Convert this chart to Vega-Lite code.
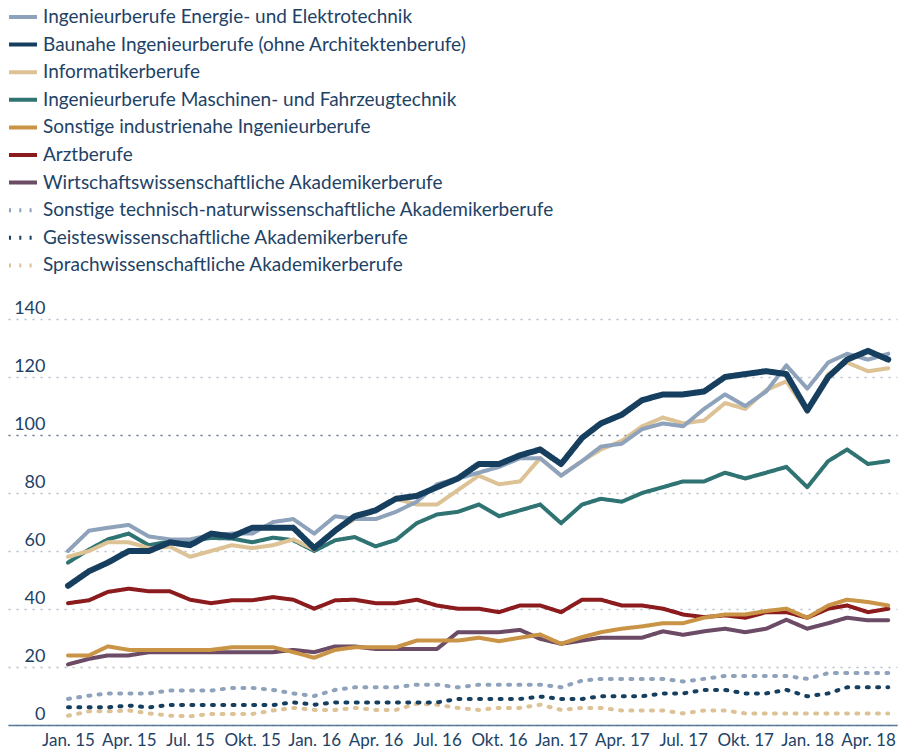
{
"$schema": "https://vega.github.io/schema/vega-lite/v6.json",
"width": 889, "height": 406,
"autosize": {"type": "none"},
"padding": {"left": 8, "top": 319, "right": 2, "bottom": 26},
"background": "white",
"config": {"font": "Lato", "view": {"stroke": null}},
"data": {"values": [
{"month":"2015-01","series":"Sprachwissenschaftliche Akademikerberufe","value":3.2},
{"month":"2015-02","series":"Sprachwissenschaftliche Akademikerberufe","value":4.7},
{"month":"2015-03","series":"Sprachwissenschaftliche Akademikerberufe","value":4.7},
{"month":"2015-04","series":"Sprachwissenschaftliche Akademikerberufe","value":5},
{"month":"2015-05","series":"Sprachwissenschaftliche Akademikerberufe","value":4},
{"month":"2015-06","series":"Sprachwissenschaftliche Akademikerberufe","value":3.2},
{"month":"2015-07","series":"Sprachwissenschaftliche Akademikerberufe","value":3},
{"month":"2015-08","series":"Sprachwissenschaftliche Akademikerberufe","value":3.8},
{"month":"2015-09","series":"Sprachwissenschaftliche Akademikerberufe","value":3.8},
{"month":"2015-10","series":"Sprachwissenschaftliche Akademikerberufe","value":3.8},
{"month":"2015-11","series":"Sprachwissenschaftliche Akademikerberufe","value":5},
{"month":"2015-12","series":"Sprachwissenschaftliche Akademikerberufe","value":5.9},
{"month":"2016-01","series":"Sprachwissenschaftliche Akademikerberufe","value":5.2},
{"month":"2016-02","series":"Sprachwissenschaftliche Akademikerberufe","value":5.2},
{"month":"2016-03","series":"Sprachwissenschaftliche Akademikerberufe","value":5.9},
{"month":"2016-04","series":"Sprachwissenschaftliche Akademikerberufe","value":5.2},
{"month":"2016-05","series":"Sprachwissenschaftliche Akademikerberufe","value":5.2},
{"month":"2016-06","series":"Sprachwissenschaftliche Akademikerberufe","value":7.3},
{"month":"2016-07","series":"Sprachwissenschaftliche Akademikerberufe","value":7},
{"month":"2016-08","series":"Sprachwissenschaftliche Akademikerberufe","value":5.9},
{"month":"2016-09","series":"Sprachwissenschaftliche Akademikerberufe","value":5.2},
{"month":"2016-10","series":"Sprachwissenschaftliche Akademikerberufe","value":5.9},
{"month":"2016-11","series":"Sprachwissenschaftliche Akademikerberufe","value":5.9},
{"month":"2016-12","series":"Sprachwissenschaftliche Akademikerberufe","value":7},
{"month":"2017-01","series":"Sprachwissenschaftliche Akademikerberufe","value":5.2},
{"month":"2017-02","series":"Sprachwissenschaftliche Akademikerberufe","value":5.9},
{"month":"2017-03","series":"Sprachwissenschaftliche Akademikerberufe","value":5.9},
{"month":"2017-04","series":"Sprachwissenschaftliche Akademikerberufe","value":5},
{"month":"2017-05","series":"Sprachwissenschaftliche Akademikerberufe","value":5},
{"month":"2017-06","series":"Sprachwissenschaftliche Akademikerberufe","value":5},
{"month":"2017-07","series":"Sprachwissenschaftliche Akademikerberufe","value":4},
{"month":"2017-08","series":"Sprachwissenschaftliche Akademikerberufe","value":5},
{"month":"2017-09","series":"Sprachwissenschaftliche Akademikerberufe","value":5},
{"month":"2017-10","series":"Sprachwissenschaftliche Akademikerberufe","value":4},
{"month":"2017-11","series":"Sprachwissenschaftliche Akademikerberufe","value":4},
{"month":"2017-12","series":"Sprachwissenschaftliche Akademikerberufe","value":4},
{"month":"2018-01","series":"Sprachwissenschaftliche Akademikerberufe","value":4},
{"month":"2018-02","series":"Sprachwissenschaftliche Akademikerberufe","value":4},
{"month":"2018-03","series":"Sprachwissenschaftliche Akademikerberufe","value":4},
{"month":"2018-04","series":"Sprachwissenschaftliche Akademikerberufe","value":4},
{"month":"2018-05","series":"Sprachwissenschaftliche Akademikerberufe","value":4},
{"month":"2015-01","series":"Geisteswissenschaftliche Akademikerberufe","value":6.1},
{"month":"2015-02","series":"Geisteswissenschaftliche Akademikerberufe","value":6.1},
{"month":"2015-03","series":"Geisteswissenschaftliche Akademikerberufe","value":6.1},
{"month":"2015-04","series":"Geisteswissenschaftliche Akademikerberufe","value":6.7},
{"month":"2015-05","series":"Geisteswissenschaftliche Akademikerberufe","value":6.1},
{"month":"2015-06","series":"Geisteswissenschaftliche Akademikerberufe","value":6.9},
{"month":"2015-07","series":"Geisteswissenschaftliche Akademikerberufe","value":6.9},
{"month":"2015-08","series":"Geisteswissenschaftliche Akademikerberufe","value":6.9},
{"month":"2015-09","series":"Geisteswissenschaftliche Akademikerberufe","value":6.9},
{"month":"2015-10","series":"Geisteswissenschaftliche Akademikerberufe","value":6.9},
{"month":"2015-11","series":"Geisteswissenschaftliche Akademikerberufe","value":6.9},
{"month":"2015-12","series":"Geisteswissenschaftliche Akademikerberufe","value":7.8},
{"month":"2016-01","series":"Geisteswissenschaftliche Akademikerberufe","value":7},
{"month":"2016-02","series":"Geisteswissenschaftliche Akademikerberufe","value":7.8},
{"month":"2016-03","series":"Geisteswissenschaftliche Akademikerberufe","value":7.8},
{"month":"2016-04","series":"Geisteswissenschaftliche Akademikerberufe","value":7.8},
{"month":"2016-05","series":"Geisteswissenschaftliche Akademikerberufe","value":7.8},
{"month":"2016-06","series":"Geisteswissenschaftliche Akademikerberufe","value":7.8},
{"month":"2016-07","series":"Geisteswissenschaftliche Akademikerberufe","value":7.8},
{"month":"2016-08","series":"Geisteswissenschaftliche Akademikerberufe","value":9},
{"month":"2016-09","series":"Geisteswissenschaftliche Akademikerberufe","value":9},
{"month":"2016-10","series":"Geisteswissenschaftliche Akademikerberufe","value":9},
{"month":"2016-11","series":"Geisteswissenschaftliche Akademikerberufe","value":9},
{"month":"2016-12","series":"Geisteswissenschaftliche Akademikerberufe","value":9.8},
{"month":"2017-01","series":"Geisteswissenschaftliche Akademikerberufe","value":9},
{"month":"2017-02","series":"Geisteswissenschaftliche Akademikerberufe","value":9},
{"month":"2017-03","series":"Geisteswissenschaftliche Akademikerberufe","value":9.9},
{"month":"2017-04","series":"Geisteswissenschaftliche Akademikerberufe","value":9.9},
{"month":"2017-05","series":"Geisteswissenschaftliche Akademikerberufe","value":9.9},
{"month":"2017-06","series":"Geisteswissenschaftliche Akademikerberufe","value":10.9},
{"month":"2017-07","series":"Geisteswissenschaftliche Akademikerberufe","value":10.9},
{"month":"2017-08","series":"Geisteswissenschaftliche Akademikerberufe","value":12.1},
{"month":"2017-09","series":"Geisteswissenschaftliche Akademikerberufe","value":12.1},
{"month":"2017-10","series":"Geisteswissenschaftliche Akademikerberufe","value":10.9},
{"month":"2017-11","series":"Geisteswissenschaftliche Akademikerberufe","value":10.9},
{"month":"2017-12","series":"Geisteswissenschaftliche Akademikerberufe","value":12.1},
{"month":"2018-01","series":"Geisteswissenschaftliche Akademikerberufe","value":9.9},
{"month":"2018-02","series":"Geisteswissenschaftliche Akademikerberufe","value":10.9},
{"month":"2018-03","series":"Geisteswissenschaftliche Akademikerberufe","value":13},
{"month":"2018-04","series":"Geisteswissenschaftliche Akademikerberufe","value":13},
{"month":"2018-05","series":"Geisteswissenschaftliche Akademikerberufe","value":13},
{"month":"2015-01","series":"Sonstige technisch-naturwissenschaftliche Akademikerberufe","value":9},
{"month":"2015-02","series":"Sonstige technisch-naturwissenschaftliche Akademikerberufe","value":10.1},
{"month":"2015-03","series":"Sonstige technisch-naturwissenschaftliche Akademikerberufe","value":10.9},
{"month":"2015-04","series":"Sonstige technisch-naturwissenschaftliche Akademikerberufe","value":10.9},
{"month":"2015-05","series":"Sonstige technisch-naturwissenschaftliche Akademikerberufe","value":10.9},
{"month":"2015-06","series":"Sonstige technisch-naturwissenschaftliche Akademikerberufe","value":11.9},
{"month":"2015-07","series":"Sonstige technisch-naturwissenschaftliche Akademikerberufe","value":11.9},
{"month":"2015-08","series":"Sonstige technisch-naturwissenschaftliche Akademikerberufe","value":11.9},
{"month":"2015-09","series":"Sonstige technisch-naturwissenschaftliche Akademikerberufe","value":12.8},
{"month":"2015-10","series":"Sonstige technisch-naturwissenschaftliche Akademikerberufe","value":12.8},
{"month":"2015-11","series":"Sonstige technisch-naturwissenschaftliche Akademikerberufe","value":12.1},
{"month":"2015-12","series":"Sonstige technisch-naturwissenschaftliche Akademikerberufe","value":10.9},
{"month":"2016-01","series":"Sonstige technisch-naturwissenschaftliche Akademikerberufe","value":10},
{"month":"2016-02","series":"Sonstige technisch-naturwissenschaftliche Akademikerberufe","value":12.1},
{"month":"2016-03","series":"Sonstige technisch-naturwissenschaftliche Akademikerberufe","value":13},
{"month":"2016-04","series":"Sonstige technisch-naturwissenschaftliche Akademikerberufe","value":13},
{"month":"2016-05","series":"Sonstige technisch-naturwissenschaftliche Akademikerberufe","value":13},
{"month":"2016-06","series":"Sonstige technisch-naturwissenschaftliche Akademikerberufe","value":13.9},
{"month":"2016-07","series":"Sonstige technisch-naturwissenschaftliche Akademikerberufe","value":13.9},
{"month":"2016-08","series":"Sonstige technisch-naturwissenschaftliche Akademikerberufe","value":13},
{"month":"2016-09","series":"Sonstige technisch-naturwissenschaftliche Akademikerberufe","value":13.9},
{"month":"2016-10","series":"Sonstige technisch-naturwissenschaftliche Akademikerberufe","value":13.9},
{"month":"2016-11","series":"Sonstige technisch-naturwissenschaftliche Akademikerberufe","value":13.9},
{"month":"2016-12","series":"Sonstige technisch-naturwissenschaftliche Akademikerberufe","value":13.9},
{"month":"2017-01","series":"Sonstige technisch-naturwissenschaftliche Akademikerberufe","value":13},
{"month":"2017-02","series":"Sonstige technisch-naturwissenschaftliche Akademikerberufe","value":15.3},
{"month":"2017-03","series":"Sonstige technisch-naturwissenschaftliche Akademikerberufe","value":15.9},
{"month":"2017-04","series":"Sonstige technisch-naturwissenschaftliche Akademikerberufe","value":15.9},
{"month":"2017-05","series":"Sonstige technisch-naturwissenschaftliche Akademikerberufe","value":15.9},
{"month":"2017-06","series":"Sonstige technisch-naturwissenschaftliche Akademikerberufe","value":15.9},
{"month":"2017-07","series":"Sonstige technisch-naturwissenschaftliche Akademikerberufe","value":15},
{"month":"2017-08","series":"Sonstige technisch-naturwissenschaftliche Akademikerberufe","value":15.9},
{"month":"2017-09","series":"Sonstige technisch-naturwissenschaftliche Akademikerberufe","value":16.9},
{"month":"2017-10","series":"Sonstige technisch-naturwissenschaftliche Akademikerberufe","value":16.9},
{"month":"2017-11","series":"Sonstige technisch-naturwissenschaftliche Akademikerberufe","value":16.9},
{"month":"2017-12","series":"Sonstige technisch-naturwissenschaftliche Akademikerberufe","value":16.9},
{"month":"2018-01","series":"Sonstige technisch-naturwissenschaftliche Akademikerberufe","value":15.9},
{"month":"2018-02","series":"Sonstige technisch-naturwissenschaftliche Akademikerberufe","value":17.9},
{"month":"2018-03","series":"Sonstige technisch-naturwissenschaftliche Akademikerberufe","value":17.9},
{"month":"2018-04","series":"Sonstige technisch-naturwissenschaftliche Akademikerberufe","value":17.9},
{"month":"2018-05","series":"Sonstige technisch-naturwissenschaftliche Akademikerberufe","value":17.9},
{"month":"2015-01","series":"Wirtschaftswissenschaftliche Akademikerberufe","value":20.9},
{"month":"2015-02","series":"Wirtschaftswissenschaftliche Akademikerberufe","value":22.8},
{"month":"2015-03","series":"Wirtschaftswissenschaftliche Akademikerberufe","value":24},
{"month":"2015-04","series":"Wirtschaftswissenschaftliche Akademikerberufe","value":24},
{"month":"2015-05","series":"Wirtschaftswissenschaftliche Akademikerberufe","value":25.1},
{"month":"2015-06","series":"Wirtschaftswissenschaftliche Akademikerberufe","value":25.1},
{"month":"2015-07","series":"Wirtschaftswissenschaftliche Akademikerberufe","value":25.1},
{"month":"2015-08","series":"Wirtschaftswissenschaftliche Akademikerberufe","value":25.1},
{"month":"2015-09","series":"Wirtschaftswissenschaftliche Akademikerberufe","value":25.1},
{"month":"2015-10","series":"Wirtschaftswissenschaftliche Akademikerberufe","value":25.1},
{"month":"2015-11","series":"Wirtschaftswissenschaftliche Akademikerberufe","value":25.1},
{"month":"2015-12","series":"Wirtschaftswissenschaftliche Akademikerberufe","value":25.9},
{"month":"2016-01","series":"Wirtschaftswissenschaftliche Akademikerberufe","value":25.1},
{"month":"2016-02","series":"Wirtschaftswissenschaftliche Akademikerberufe","value":27.1},
{"month":"2016-03","series":"Wirtschaftswissenschaftliche Akademikerberufe","value":27.1},
{"month":"2016-04","series":"Wirtschaftswissenschaftliche Akademikerberufe","value":26.2},
{"month":"2016-05","series":"Wirtschaftswissenschaftliche Akademikerberufe","value":26.2},
{"month":"2016-06","series":"Wirtschaftswissenschaftliche Akademikerberufe","value":26.2},
{"month":"2016-07","series":"Wirtschaftswissenschaftliche Akademikerberufe","value":26.2},
{"month":"2016-08","series":"Wirtschaftswissenschaftliche Akademikerberufe","value":32},
{"month":"2016-09","series":"Wirtschaftswissenschaftliche Akademikerberufe","value":32},
{"month":"2016-10","series":"Wirtschaftswissenschaftliche Akademikerberufe","value":32},
{"month":"2016-11","series":"Wirtschaftswissenschaftliche Akademikerberufe","value":32.8},
{"month":"2016-12","series":"Wirtschaftswissenschaftliche Akademikerberufe","value":29.7},
{"month":"2017-01","series":"Wirtschaftswissenschaftliche Akademikerberufe","value":28},
{"month":"2017-02","series":"Wirtschaftswissenschaftliche Akademikerberufe","value":29.1},
{"month":"2017-03","series":"Wirtschaftswissenschaftliche Akademikerberufe","value":30.1},
{"month":"2017-04","series":"Wirtschaftswissenschaftliche Akademikerberufe","value":30.1},
{"month":"2017-05","series":"Wirtschaftswissenschaftliche Akademikerberufe","value":30.1},
{"month":"2017-06","series":"Wirtschaftswissenschaftliche Akademikerberufe","value":32.3},
{"month":"2017-07","series":"Wirtschaftswissenschaftliche Akademikerberufe","value":31.1},
{"month":"2017-08","series":"Wirtschaftswissenschaftliche Akademikerberufe","value":32.3},
{"month":"2017-09","series":"Wirtschaftswissenschaftliche Akademikerberufe","value":33.2},
{"month":"2017-10","series":"Wirtschaftswissenschaftliche Akademikerberufe","value":32},
{"month":"2017-11","series":"Wirtschaftswissenschaftliche Akademikerberufe","value":33.2},
{"month":"2017-12","series":"Wirtschaftswissenschaftliche Akademikerberufe","value":36.3},
{"month":"2018-01","series":"Wirtschaftswissenschaftliche Akademikerberufe","value":33.2},
{"month":"2018-02","series":"Wirtschaftswissenschaftliche Akademikerberufe","value":35.1},
{"month":"2018-03","series":"Wirtschaftswissenschaftliche Akademikerberufe","value":37},
{"month":"2018-04","series":"Wirtschaftswissenschaftliche Akademikerberufe","value":36.1},
{"month":"2018-05","series":"Wirtschaftswissenschaftliche Akademikerberufe","value":36.1},
{"month":"2015-01","series":"Arztberufe","value":42},
{"month":"2015-02","series":"Arztberufe","value":43},
{"month":"2015-03","series":"Arztberufe","value":45.9},
{"month":"2015-04","series":"Arztberufe","value":47},
{"month":"2015-05","series":"Arztberufe","value":46.1},
{"month":"2015-06","series":"Arztberufe","value":46.1},
{"month":"2015-07","series":"Arztberufe","value":43.2},
{"month":"2015-08","series":"Arztberufe","value":42},
{"month":"2015-09","series":"Arztberufe","value":43},
{"month":"2015-10","series":"Arztberufe","value":43},
{"month":"2015-11","series":"Arztberufe","value":44.1},
{"month":"2015-12","series":"Arztberufe","value":43.2},
{"month":"2016-01","series":"Arztberufe","value":40.1},
{"month":"2016-02","series":"Arztberufe","value":43},
{"month":"2016-03","series":"Arztberufe","value":43.2},
{"month":"2016-04","series":"Arztberufe","value":42},
{"month":"2016-05","series":"Arztberufe","value":42},
{"month":"2016-06","series":"Arztberufe","value":43.2},
{"month":"2016-07","series":"Arztberufe","value":41.2},
{"month":"2016-08","series":"Arztberufe","value":40.1},
{"month":"2016-09","series":"Arztberufe","value":40.1},
{"month":"2016-10","series":"Arztberufe","value":38.9},
{"month":"2016-11","series":"Arztberufe","value":41.2},
{"month":"2016-12","series":"Arztberufe","value":41.2},
{"month":"2017-01","series":"Arztberufe","value":38.9},
{"month":"2017-02","series":"Arztberufe","value":43.2},
{"month":"2017-03","series":"Arztberufe","value":43.2},
{"month":"2017-04","series":"Arztberufe","value":41.2},
{"month":"2017-05","series":"Arztberufe","value":41.2},
{"month":"2017-06","series":"Arztberufe","value":40.1},
{"month":"2017-07","series":"Arztberufe","value":38.1},
{"month":"2017-08","series":"Arztberufe","value":37.2},
{"month":"2017-09","series":"Arztberufe","value":37.8},
{"month":"2017-10","series":"Arztberufe","value":37},
{"month":"2017-11","series":"Arztberufe","value":38.9},
{"month":"2017-12","series":"Arztberufe","value":38.9},
{"month":"2018-01","series":"Arztberufe","value":37},
{"month":"2018-02","series":"Arztberufe","value":40.1},
{"month":"2018-03","series":"Arztberufe","value":41.2},
{"month":"2018-04","series":"Arztberufe","value":38.9},
{"month":"2018-05","series":"Arztberufe","value":40.1},
{"month":"2015-01","series":"Sonstige industrienahe Ingenieurberufe","value":24},
{"month":"2015-02","series":"Sonstige industrienahe Ingenieurberufe","value":24},
{"month":"2015-03","series":"Sonstige industrienahe Ingenieurberufe","value":27.1},
{"month":"2015-04","series":"Sonstige industrienahe Ingenieurberufe","value":25.9},
{"month":"2015-05","series":"Sonstige industrienahe Ingenieurberufe","value":25.9},
{"month":"2015-06","series":"Sonstige industrienahe Ingenieurberufe","value":25.9},
{"month":"2015-07","series":"Sonstige industrienahe Ingenieurberufe","value":25.9},
{"month":"2015-08","series":"Sonstige industrienahe Ingenieurberufe","value":25.9},
{"month":"2015-09","series":"Sonstige industrienahe Ingenieurberufe","value":26.8},
{"month":"2015-10","series":"Sonstige industrienahe Ingenieurberufe","value":26.8},
{"month":"2015-11","series":"Sonstige industrienahe Ingenieurberufe","value":26.8},
{"month":"2015-12","series":"Sonstige industrienahe Ingenieurberufe","value":25.1},
{"month":"2016-01","series":"Sonstige industrienahe Ingenieurberufe","value":23.2},
{"month":"2016-02","series":"Sonstige industrienahe Ingenieurberufe","value":25.9},
{"month":"2016-03","series":"Sonstige industrienahe Ingenieurberufe","value":26.8},
{"month":"2016-04","series":"Sonstige industrienahe Ingenieurberufe","value":26.8},
{"month":"2016-05","series":"Sonstige industrienahe Ingenieurberufe","value":26.8},
{"month":"2016-06","series":"Sonstige industrienahe Ingenieurberufe","value":29.1},
{"month":"2016-07","series":"Sonstige industrienahe Ingenieurberufe","value":29.1},
{"month":"2016-08","series":"Sonstige industrienahe Ingenieurberufe","value":29.1},
{"month":"2016-09","series":"Sonstige industrienahe Ingenieurberufe","value":30.1},
{"month":"2016-10","series":"Sonstige industrienahe Ingenieurberufe","value":28.9},
{"month":"2016-11","series":"Sonstige industrienahe Ingenieurberufe","value":30.1},
{"month":"2016-12","series":"Sonstige industrienahe Ingenieurberufe","value":31.2},
{"month":"2017-01","series":"Sonstige industrienahe Ingenieurberufe","value":28},
{"month":"2017-02","series":"Sonstige industrienahe Ingenieurberufe","value":30.3},
{"month":"2017-03","series":"Sonstige industrienahe Ingenieurberufe","value":32},
{"month":"2017-04","series":"Sonstige industrienahe Ingenieurberufe","value":33.2},
{"month":"2017-05","series":"Sonstige industrienahe Ingenieurberufe","value":34},
{"month":"2017-06","series":"Sonstige industrienahe Ingenieurberufe","value":35.1},
{"month":"2017-07","series":"Sonstige industrienahe Ingenieurberufe","value":35.1},
{"month":"2017-08","series":"Sonstige industrienahe Ingenieurberufe","value":37},
{"month":"2017-09","series":"Sonstige industrienahe Ingenieurberufe","value":38.1},
{"month":"2017-10","series":"Sonstige industrienahe Ingenieurberufe","value":38.1},
{"month":"2017-11","series":"Sonstige industrienahe Ingenieurberufe","value":39.3},
{"month":"2017-12","series":"Sonstige industrienahe Ingenieurberufe","value":40.1},
{"month":"2018-01","series":"Sonstige industrienahe Ingenieurberufe","value":37},
{"month":"2018-02","series":"Sonstige industrienahe Ingenieurberufe","value":41.2},
{"month":"2018-03","series":"Sonstige industrienahe Ingenieurberufe","value":43.2},
{"month":"2018-04","series":"Sonstige industrienahe Ingenieurberufe","value":42.4},
{"month":"2018-05","series":"Sonstige industrienahe Ingenieurberufe","value":41.2},
{"month":"2015-01","series":"Ingenieurberufe Maschinen- und Fahrzeugtechnik","value":56},
{"month":"2015-02","series":"Ingenieurberufe Maschinen- und Fahrzeugtechnik","value":60.5},
{"month":"2015-03","series":"Ingenieurberufe Maschinen- und Fahrzeugtechnik","value":64},
{"month":"2015-04","series":"Ingenieurberufe Maschinen- und Fahrzeugtechnik","value":66},
{"month":"2015-05","series":"Ingenieurberufe Maschinen- und Fahrzeugtechnik","value":62},
{"month":"2015-06","series":"Ingenieurberufe Maschinen- und Fahrzeugtechnik","value":63.3},
{"month":"2015-07","series":"Ingenieurberufe Maschinen- und Fahrzeugtechnik","value":63.5},
{"month":"2015-08","series":"Ingenieurberufe Maschinen- und Fahrzeugtechnik","value":64.5},
{"month":"2015-09","series":"Ingenieurberufe Maschinen- und Fahrzeugtechnik","value":64.3},
{"month":"2015-10","series":"Ingenieurberufe Maschinen- und Fahrzeugtechnik","value":63},
{"month":"2015-11","series":"Ingenieurberufe Maschinen- und Fahrzeugtechnik","value":64.6},
{"month":"2015-12","series":"Ingenieurberufe Maschinen- und Fahrzeugtechnik","value":63.7},
{"month":"2016-01","series":"Ingenieurberufe Maschinen- und Fahrzeugtechnik","value":60},
{"month":"2016-02","series":"Ingenieurberufe Maschinen- und Fahrzeugtechnik","value":63.7},
{"month":"2016-03","series":"Ingenieurberufe Maschinen- und Fahrzeugtechnik","value":64.8},
{"month":"2016-04","series":"Ingenieurberufe Maschinen- und Fahrzeugtechnik","value":61.6},
{"month":"2016-05","series":"Ingenieurberufe Maschinen- und Fahrzeugtechnik","value":63.8},
{"month":"2016-06","series":"Ingenieurberufe Maschinen- und Fahrzeugtechnik","value":69.6},
{"month":"2016-07","series":"Ingenieurberufe Maschinen- und Fahrzeugtechnik","value":72.6},
{"month":"2016-08","series":"Ingenieurberufe Maschinen- und Fahrzeugtechnik","value":73.5},
{"month":"2016-09","series":"Ingenieurberufe Maschinen- und Fahrzeugtechnik","value":76},
{"month":"2016-10","series":"Ingenieurberufe Maschinen- und Fahrzeugtechnik","value":72},
{"month":"2016-11","series":"Ingenieurberufe Maschinen- und Fahrzeugtechnik","value":74},
{"month":"2016-12","series":"Ingenieurberufe Maschinen- und Fahrzeugtechnik","value":76},
{"month":"2017-01","series":"Ingenieurberufe Maschinen- und Fahrzeugtechnik","value":69.6},
{"month":"2017-02","series":"Ingenieurberufe Maschinen- und Fahrzeugtechnik","value":76},
{"month":"2017-03","series":"Ingenieurberufe Maschinen- und Fahrzeugtechnik","value":78},
{"month":"2017-04","series":"Ingenieurberufe Maschinen- und Fahrzeugtechnik","value":77},
{"month":"2017-05","series":"Ingenieurberufe Maschinen- und Fahrzeugtechnik","value":80},
{"month":"2017-06","series":"Ingenieurberufe Maschinen- und Fahrzeugtechnik","value":82},
{"month":"2017-07","series":"Ingenieurberufe Maschinen- und Fahrzeugtechnik","value":84},
{"month":"2017-08","series":"Ingenieurberufe Maschinen- und Fahrzeugtechnik","value":84},
{"month":"2017-09","series":"Ingenieurberufe Maschinen- und Fahrzeugtechnik","value":87},
{"month":"2017-10","series":"Ingenieurberufe Maschinen- und Fahrzeugtechnik","value":85},
{"month":"2017-11","series":"Ingenieurberufe Maschinen- und Fahrzeugtechnik","value":87},
{"month":"2017-12","series":"Ingenieurberufe Maschinen- und Fahrzeugtechnik","value":89},
{"month":"2018-01","series":"Ingenieurberufe Maschinen- und Fahrzeugtechnik","value":82},
{"month":"2018-02","series":"Ingenieurberufe Maschinen- und Fahrzeugtechnik","value":91},
{"month":"2018-03","series":"Ingenieurberufe Maschinen- und Fahrzeugtechnik","value":95},
{"month":"2018-04","series":"Ingenieurberufe Maschinen- und Fahrzeugtechnik","value":90},
{"month":"2018-05","series":"Ingenieurberufe Maschinen- und Fahrzeugtechnik","value":91},
{"month":"2015-01","series":"Informatikerberufe","value":58},
{"month":"2015-02","series":"Informatikerberufe","value":60},
{"month":"2015-03","series":"Informatikerberufe","value":63},
{"month":"2015-04","series":"Informatikerberufe","value":63},
{"month":"2015-05","series":"Informatikerberufe","value":61},
{"month":"2015-06","series":"Informatikerberufe","value":61.5},
{"month":"2015-07","series":"Informatikerberufe","value":58},
{"month":"2015-08","series":"Informatikerberufe","value":60},
{"month":"2015-09","series":"Informatikerberufe","value":62},
{"month":"2015-10","series":"Informatikerberufe","value":61},
{"month":"2015-11","series":"Informatikerberufe","value":62},
{"month":"2015-12","series":"Informatikerberufe","value":64},
{"month":"2016-01","series":"Informatikerberufe","value":60.5},
{"month":"2016-02","series":"Informatikerberufe","value":67},
{"month":"2016-03","series":"Informatikerberufe","value":71},
{"month":"2016-04","series":"Informatikerberufe","value":74},
{"month":"2016-05","series":"Informatikerberufe","value":78},
{"month":"2016-06","series":"Informatikerberufe","value":76},
{"month":"2016-07","series":"Informatikerberufe","value":76},
{"month":"2016-08","series":"Informatikerberufe","value":81},
{"month":"2016-09","series":"Informatikerberufe","value":86},
{"month":"2016-10","series":"Informatikerberufe","value":83},
{"month":"2016-11","series":"Informatikerberufe","value":84},
{"month":"2016-12","series":"Informatikerberufe","value":92},
{"month":"2017-01","series":"Informatikerberufe","value":86},
{"month":"2017-02","series":"Informatikerberufe","value":91},
{"month":"2017-03","series":"Informatikerberufe","value":95},
{"month":"2017-04","series":"Informatikerberufe","value":98},
{"month":"2017-05","series":"Informatikerberufe","value":103},
{"month":"2017-06","series":"Informatikerberufe","value":106},
{"month":"2017-07","series":"Informatikerberufe","value":104},
{"month":"2017-08","series":"Informatikerberufe","value":105},
{"month":"2017-09","series":"Informatikerberufe","value":111},
{"month":"2017-10","series":"Informatikerberufe","value":109},
{"month":"2017-11","series":"Informatikerberufe","value":115.5},
{"month":"2017-12","series":"Informatikerberufe","value":118.5},
{"month":"2018-01","series":"Informatikerberufe","value":108},
{"month":"2018-02","series":"Informatikerberufe","value":121},
{"month":"2018-03","series":"Informatikerberufe","value":125},
{"month":"2018-04","series":"Informatikerberufe","value":122},
{"month":"2018-05","series":"Informatikerberufe","value":123},
{"month":"2015-01","series":"Ingenieurberufe Energie- und Elektrotechnik","value":60},
{"month":"2015-02","series":"Ingenieurberufe Energie- und Elektrotechnik","value":67},
{"month":"2015-03","series":"Ingenieurberufe Energie- und Elektrotechnik","value":68},
{"month":"2015-04","series":"Ingenieurberufe Energie- und Elektrotechnik","value":69},
{"month":"2015-05","series":"Ingenieurberufe Energie- und Elektrotechnik","value":65},
{"month":"2015-06","series":"Ingenieurberufe Energie- und Elektrotechnik","value":64},
{"month":"2015-07","series":"Ingenieurberufe Energie- und Elektrotechnik","value":64},
{"month":"2015-08","series":"Ingenieurberufe Energie- und Elektrotechnik","value":65.5},
{"month":"2015-09","series":"Ingenieurberufe Energie- und Elektrotechnik","value":66},
{"month":"2015-10","series":"Ingenieurberufe Energie- und Elektrotechnik","value":66},
{"month":"2015-11","series":"Ingenieurberufe Energie- und Elektrotechnik","value":70},
{"month":"2015-12","series":"Ingenieurberufe Energie- und Elektrotechnik","value":71},
{"month":"2016-01","series":"Ingenieurberufe Energie- und Elektrotechnik","value":66},
{"month":"2016-02","series":"Ingenieurberufe Energie- und Elektrotechnik","value":72},
{"month":"2016-03","series":"Ingenieurberufe Energie- und Elektrotechnik","value":71},
{"month":"2016-04","series":"Ingenieurberufe Energie- und Elektrotechnik","value":71},
{"month":"2016-05","series":"Ingenieurberufe Energie- und Elektrotechnik","value":73.5},
{"month":"2016-06","series":"Ingenieurberufe Energie- und Elektrotechnik","value":77},
{"month":"2016-07","series":"Ingenieurberufe Energie- und Elektrotechnik","value":83},
{"month":"2016-08","series":"Ingenieurberufe Energie- und Elektrotechnik","value":85},
{"month":"2016-09","series":"Ingenieurberufe Energie- und Elektrotechnik","value":87},
{"month":"2016-10","series":"Ingenieurberufe Energie- und Elektrotechnik","value":89},
{"month":"2016-11","series":"Ingenieurberufe Energie- und Elektrotechnik","value":92},
{"month":"2016-12","series":"Ingenieurberufe Energie- und Elektrotechnik","value":92},
{"month":"2017-01","series":"Ingenieurberufe Energie- und Elektrotechnik","value":86},
{"month":"2017-02","series":"Ingenieurberufe Energie- und Elektrotechnik","value":91},
{"month":"2017-03","series":"Ingenieurberufe Energie- und Elektrotechnik","value":96},
{"month":"2017-04","series":"Ingenieurberufe Energie- und Elektrotechnik","value":97},
{"month":"2017-05","series":"Ingenieurberufe Energie- und Elektrotechnik","value":102},
{"month":"2017-06","series":"Ingenieurberufe Energie- und Elektrotechnik","value":104},
{"month":"2017-07","series":"Ingenieurberufe Energie- und Elektrotechnik","value":103},
{"month":"2017-08","series":"Ingenieurberufe Energie- und Elektrotechnik","value":109},
{"month":"2017-09","series":"Ingenieurberufe Energie- und Elektrotechnik","value":114},
{"month":"2017-10","series":"Ingenieurberufe Energie- und Elektrotechnik","value":110},
{"month":"2017-11","series":"Ingenieurberufe Energie- und Elektrotechnik","value":115},
{"month":"2017-12","series":"Ingenieurberufe Energie- und Elektrotechnik","value":124},
{"month":"2018-01","series":"Ingenieurberufe Energie- und Elektrotechnik","value":116},
{"month":"2018-02","series":"Ingenieurberufe Energie- und Elektrotechnik","value":125},
{"month":"2018-03","series":"Ingenieurberufe Energie- und Elektrotechnik","value":128},
{"month":"2018-04","series":"Ingenieurberufe Energie- und Elektrotechnik","value":126},
{"month":"2018-05","series":"Ingenieurberufe Energie- und Elektrotechnik","value":128},
{"month":"2015-01","series":"Baunahe Ingenieurberufe (ohne Architektenberufe)","value":48},
{"month":"2015-02","series":"Baunahe Ingenieurberufe (ohne Architektenberufe)","value":53},
{"month":"2015-03","series":"Baunahe Ingenieurberufe (ohne Architektenberufe)","value":56},
{"month":"2015-04","series":"Baunahe Ingenieurberufe (ohne Architektenberufe)","value":60},
{"month":"2015-05","series":"Baunahe Ingenieurberufe (ohne Architektenberufe)","value":60},
{"month":"2015-06","series":"Baunahe Ingenieurberufe (ohne Architektenberufe)","value":63},
{"month":"2015-07","series":"Baunahe Ingenieurberufe (ohne Architektenberufe)","value":62},
{"month":"2015-08","series":"Baunahe Ingenieurberufe (ohne Architektenberufe)","value":66},
{"month":"2015-09","series":"Baunahe Ingenieurberufe (ohne Architektenberufe)","value":65},
{"month":"2015-10","series":"Baunahe Ingenieurberufe (ohne Architektenberufe)","value":68},
{"month":"2015-11","series":"Baunahe Ingenieurberufe (ohne Architektenberufe)","value":68},
{"month":"2015-12","series":"Baunahe Ingenieurberufe (ohne Architektenberufe)","value":68},
{"month":"2016-01","series":"Baunahe Ingenieurberufe (ohne Architektenberufe)","value":61},
{"month":"2016-02","series":"Baunahe Ingenieurberufe (ohne Architektenberufe)","value":67},
{"month":"2016-03","series":"Baunahe Ingenieurberufe (ohne Architektenberufe)","value":72},
{"month":"2016-04","series":"Baunahe Ingenieurberufe (ohne Architektenberufe)","value":74},
{"month":"2016-05","series":"Baunahe Ingenieurberufe (ohne Architektenberufe)","value":78},
{"month":"2016-06","series":"Baunahe Ingenieurberufe (ohne Architektenberufe)","value":79},
{"month":"2016-07","series":"Baunahe Ingenieurberufe (ohne Architektenberufe)","value":82},
{"month":"2016-08","series":"Baunahe Ingenieurberufe (ohne Architektenberufe)","value":85},
{"month":"2016-09","series":"Baunahe Ingenieurberufe (ohne Architektenberufe)","value":90},
{"month":"2016-10","series":"Baunahe Ingenieurberufe (ohne Architektenberufe)","value":90},
{"month":"2016-11","series":"Baunahe Ingenieurberufe (ohne Architektenberufe)","value":93},
{"month":"2016-12","series":"Baunahe Ingenieurberufe (ohne Architektenberufe)","value":95},
{"month":"2017-01","series":"Baunahe Ingenieurberufe (ohne Architektenberufe)","value":90},
{"month":"2017-02","series":"Baunahe Ingenieurberufe (ohne Architektenberufe)","value":99},
{"month":"2017-03","series":"Baunahe Ingenieurberufe (ohne Architektenberufe)","value":104},
{"month":"2017-04","series":"Baunahe Ingenieurberufe (ohne Architektenberufe)","value":107},
{"month":"2017-05","series":"Baunahe Ingenieurberufe (ohne Architektenberufe)","value":112},
{"month":"2017-06","series":"Baunahe Ingenieurberufe (ohne Architektenberufe)","value":114},
{"month":"2017-07","series":"Baunahe Ingenieurberufe (ohne Architektenberufe)","value":114},
{"month":"2017-08","series":"Baunahe Ingenieurberufe (ohne Architektenberufe)","value":115},
{"month":"2017-09","series":"Baunahe Ingenieurberufe (ohne Architektenberufe)","value":120},
{"month":"2017-10","series":"Baunahe Ingenieurberufe (ohne Architektenberufe)","value":121},
{"month":"2017-11","series":"Baunahe Ingenieurberufe (ohne Architektenberufe)","value":122},
{"month":"2017-12","series":"Baunahe Ingenieurberufe (ohne Architektenberufe)","value":121},
{"month":"2018-01","series":"Baunahe Ingenieurberufe (ohne Architektenberufe)","value":108.5},
{"month":"2018-02","series":"Baunahe Ingenieurberufe (ohne Architektenberufe)","value":120},
{"month":"2018-03","series":"Baunahe Ingenieurberufe (ohne Architektenberufe)","value":126},
{"month":"2018-04","series":"Baunahe Ingenieurberufe (ohne Architektenberufe)","value":129},
{"month":"2018-05","series":"Baunahe Ingenieurberufe (ohne Architektenberufe)","value":126}
]},
"mark": {"type": "line", "strokeCap": "round", "strokeJoin": "round"},
"encoding": {
"x": {"field": "month", "type": "temporal",
  "scale": {"type": "utc", "domain": [{"year": 2014, "month": 10, "date": 4, "utc": true}, {"year": 2018, "month": 5, "date": 14, "utc": true}]},
  "axis": {"title": null, "grid": false, "ticks": false, "tickSize": 0, "domain": true, "domainColor": "#5a7896", "domainWidth": 1.5,
    "values": [{"year":2015,"month":1,"date":1,"utc":true},{"year":2015,"month":4,"date":1,"utc":true},{"year":2015,"month":7,"date":1,"utc":true},{"year":2015,"month":10,"date":1,"utc":true},{"year":2016,"month":1,"date":1,"utc":true},{"year":2016,"month":4,"date":1,"utc":true},{"year":2016,"month":7,"date":1,"utc":true},{"year":2016,"month":10,"date":1,"utc":true},{"year":2017,"month":1,"date":1,"utc":true},{"year":2017,"month":4,"date":1,"utc":true},{"year":2017,"month":7,"date":1,"utc":true},{"year":2017,"month":10,"date":1,"utc":true},{"year":2018,"month":1,"date":1,"utc":true},{"year":2018,"month":4,"date":1,"utc":true}],
    "labelExpr": "['Jan.','Apr.','Jul.','Okt.'][floor(utcmonth(datum.value)/3)] + ' ' + utcFormat(datum.value, '%y')",
    "labelFontSize": 17, "labelColor": "#1e4266", "labelPadding": 7, "labelOverlap": false, "labelFlush": false}},
"y": {"field": "value", "type": "quantitative",
  "scale": {"domain": [0, 140], "nice": false, "zero": true},
  "axis": {"title": null, "values": [0, 20, 40, 60, 80, 100, 120, 140], "grid": true,
    "gridColor": {"condition": {"test": "datum.value === 100", "value": "#5f7389"}, "value": "#b1bfcd"},
    "gridDash": [2, 6], "gridWidth": 1.5, "domain": false, "ticks": false, "tickSize": 0,
    "labelAlign": "right", "labelPadding": -37, "labelBaseline": "alphabetic", "labelOffset": -6,
    "labelFontSize": 18, "labelColor": "#1e4266", "labelOverlap": false}},
"color": {"field": "series", "type": "nominal",
  "scale": {"domain": ["Ingenieurberufe Energie- und Elektrotechnik", "Baunahe Ingenieurberufe (ohne Architektenberufe)", "Informatikerberufe", "Ingenieurberufe Maschinen- und Fahrzeugtechnik", "Sonstige industrienahe Ingenieurberufe", "Arztberufe", "Wirtschaftswissenschaftliche Akademikerberufe", "Sonstige technisch-naturwissenschaftliche Akademikerberufe", "Geisteswissenschaftliche Akademikerberufe", "Sprachwissenschaftliche Akademikerberufe"],
    "range": ["#8ea3bb", "#163f5f", "#ddc296", "#2f7373", "#c99446", "#8c1b1d", "#6b4b66", "#8ea3bb", "#163f5f", "#ddc296"]},
  "legend": {"orient": "none", "legendX": -1, "legendY": -318, "title": null, "direction": "vertical", "columns": 1,
    "symbolType": "stroke", "symbolSize": 784, "symbolStrokeWidth": 4, "labelFontSize": 19, "labelColor": "#1e4266", "labelLimit": 800,
    "labelOffset": 4, "rowPadding": 1.6, "padding": 0}},
"strokeDash": {"field": "series", "type": "nominal",
  "scale": {"domain": ["Ingenieurberufe Energie- und Elektrotechnik", "Baunahe Ingenieurberufe (ohne Architektenberufe)", "Informatikerberufe", "Ingenieurberufe Maschinen- und Fahrzeugtechnik", "Sonstige industrienahe Ingenieurberufe", "Arztberufe", "Wirtschaftswissenschaftliche Akademikerberufe", "Sonstige technisch-naturwissenschaftliche Akademikerberufe", "Geisteswissenschaftliche Akademikerberufe", "Sprachwissenschaftliche Akademikerberufe"],
    "range": [[1, 0], [1, 0], [1, 0], [1, 0], [1, 0], [1, 0], [1, 0], [2, 8.3], [2, 8.3], [2, 8.3]]}},
"strokeWidth": {"condition": {"test": "datum.series === 'Baunahe Ingenieurberufe (ohne Architektenberufe)'", "value": 6}, "value": 4}
}
}
